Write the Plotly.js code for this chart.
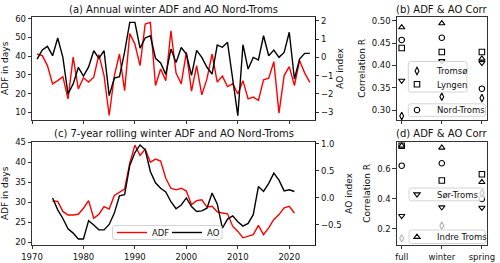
<!DOCTYPE html>
<html>
<head>
<meta charset="utf-8">
<script src="https://cdn.plot.ly/plotly-3.0.1.min.js"></script>
<style>html,body{margin:0;padding:0;background:#fff;}#chart{width:500px;height:263px;}</style>
</head>
<body>
<div id="chart"></div>
<script>
// ---------- data ----------
const annualYears = [1971,1972,1973,1974,1975,1976,1977,1978,1979,1980,1981,1982,1983,1984,1985,1986,1987,1988,1989,1990,1991,1992,1993,1994,1995,1996,1997,1998,1999,2000,2001,2002,2003,2004,2005,2006,2007,2008,2009,2010,2011,2012,2013,2014,2015,2016,2017,2018,2019,2020,2021,2022,2023,2024];
const annualADF = [41.1,40.2,34.9,25.2,26.9,29.0,17.2,39.4,22.5,28.4,26.1,28.7,40.8,29.6,8.3,29.5,41.1,21.6,52.0,46.4,34.9,57.1,58.0,24.3,33.1,26.9,53.5,30.9,25.2,42.0,21.3,34.9,19.3,27.8,41.1,26.1,29.3,23.7,25.2,19.8,26.9,17.2,18.1,16.3,27.3,28.2,37.0,9.6,29.6,34.4,24.3,37.6,30.9,26.0];
const annualAO = [-0.1,0.4,0.6,0.09,1.06,0.0,-2.0,-1.45,-0.55,-1.02,-0.52,0.36,-0.05,0.36,-2.09,-1.13,-1.05,0.3,1.91,1.91,0.5,1.06,1.18,-0.05,-0.3,-0.93,0.45,-0.28,0.54,0.18,-0.98,0.38,0.0,-0.54,-0.91,0.67,0.55,0.82,-1.18,-3.18,0.69,-0.64,0.0,-0.14,1.18,0.09,0.4,0.0,0.27,1.37,-1.18,-0.09,0.22,0.22];

const rollYears = [1974,1975,1976,1977,1978,1979,1980,1981,1982,1983,1984,1985,1986,1987,1988,1989,1990,1991,1992,1993,1994,1995,1996,1997,1998,1999,2000,2001,2002,2003,2004,2005,2006,2007,2008,2009,2010,2011,2012,2013,2014,2015,2016,2017,2018,2019,2020,2021];
const rollADF = [30.3,30.2,27.7,26.8,26.8,27.0,28.5,30.4,26.0,27.0,28.9,28.3,31.7,32.5,33.3,39.8,44.3,41.7,43.3,40.0,40.8,40.3,36.0,33.5,33.1,33.5,32.8,29.4,30.4,30.6,28.8,29.0,27.6,27.3,27.1,24.0,22.7,21.1,21.5,21.9,24.2,21.9,23.6,25.7,26.9,28.6,29.0,27.3];
const rollAO = [0.0,-0.22,-0.38,-0.57,-0.65,-0.76,-0.76,-0.42,-0.5,-0.59,-0.59,-0.49,-0.28,0.04,0.06,0.6,0.84,0.98,0.89,0.49,0.28,0.18,0.11,-0.07,-0.2,-0.13,0.0,-0.16,-0.25,-0.24,-0.19,0.09,-0.11,-0.56,-0.39,-0.33,-0.44,-0.52,-0.47,-0.31,0.21,0.12,0.27,0.46,0.33,0.13,0.15,0.12];

const seasons = ['full','winter','spring'];
const regions = ['Tromsø','Lyngen','Nord-Troms','Sør-Troms','Indre Troms'];
// panel (b)
const corrB_Tromso = [0.287,0.330,0.327];
const corrB_Lyngen = [0.439,0.430,0.430];
const corrB_NordTroms = [0.457,0.462,0.348];
const corrB_SorTroms = [0.366,0.410,0.406];
const corrB_IndreTroms = [0.485,0.494,0.415];
// panel (d)
const corrD_Tromso = [0.138,0.222,0.440];
const corrD_Lyngen = [0.755,0.523,0.565];
const corrD_NordTroms = [0.622,0.638,0.400];
const corrD_SorTroms = [0.287,0.345,0.342];
const corrD_IndreTroms = [0.755,0.742,0.512];

// ---------- styling ----------
const W = 500, H = 263;
const px = v => v / W;
const py = v => 1 - v / H;
const FONT = 'DejaVu Sans, sans-serif';
const tickFont = {family: FONT, size: 8.5, color: '#111'};
const titleFont = {family: FONT, size: 9, color: '#111'};
const symbols = ['diamond-tall-open','square-open','circle-open','triangle-down-open','triangle-up-open'];

const axBase = {
  showgrid: false, zeroline: false, showline: true, linecolor: '#000', linewidth: 0.8,
  ticks: 'outside', ticklen: 3.5, tickwidth: 0.8, tickcolor: '#000',
  tickfont: tickFont, mirror: true, fixedrange: true
};

const domA_x = [px(32), px(315)];
const domA_y = [py(120), py(16.7)];
const domC_y = [py(245), py(141.7)];
const domB_x = [px(396.7), px(486.7)];

const traces = [];
// panel (a)
traces.push({x: annualYears, y: annualADF, type: 'scatter', mode: 'lines', line: {color: '#ff0000', width: 1.4}, xaxis: 'x', yaxis: 'y', showlegend: false});
traces.push({x: annualYears, y: annualAO, type: 'scatter', mode: 'lines', line: {color: '#000', width: 1.4}, xaxis: 'x', yaxis: 'y2', showlegend: false});
// panel (c)
traces.push({x: rollYears, y: rollADF, type: 'scatter', mode: 'lines', name: 'ADF', line: {color: '#ff0000', width: 1.4}, xaxis: 'x2', yaxis: 'y3', legend: 'legend6'});
traces.push({x: rollYears, y: rollAO, type: 'scatter', mode: 'lines', name: 'AO', line: {color: '#000', width: 1.4}, xaxis: 'x2', yaxis: 'y4', legend: 'legend7'});

const bData = [corrB_Tromso, corrB_Lyngen, corrB_NordTroms, corrB_SorTroms, corrB_IndreTroms];
const dData = [corrD_Tromso, corrD_Lyngen, corrD_NordTroms, corrD_SorTroms, corrD_IndreTroms];
const bLegend = ['legend', 'legend2', 'legend3', null, null];
const dLegend = [null, null, null, 'legend4', 'legend5'];
const dColors = [['#b5b5b5','#b5b5b5','#000'], '#000', '#000', '#000', '#000'];
regions.forEach((r, i) => {
  traces.push({x: seasons, y: bData[i], type: 'scatter', mode: 'markers', name: r,
    marker: {symbol: symbols[i], size: 5.5, color: '#000', line: {width: 1.1, color: '#000'}},
    xaxis: 'x3', yaxis: 'y5', showlegend: bLegend[i] !== null, legend: bLegend[i] || 'legend'});
});
regions.forEach((r, i) => {
  traces.push({x: seasons, y: dData[i], type: 'scatter', mode: 'markers', name: r,
    marker: {symbol: symbols[i], size: 5.5, color: dColors[i], line: {width: 1.1}},
    xaxis: 'x4', yaxis: 'y6', showlegend: dLegend[i] !== null, legend: dLegend[i] || 'legend'});
});

// bare legends (box drawn as shapes); item centre sits 14.5px below legend top, symbol at +20px, text at +40px
const legBase = {bgcolor: 'rgba(0,0,0,0)', borderwidth: 0,
  font: {family: FONT, size: 8.5, color: '#111'}, itemwidth: 30, xanchor: 'left', yanchor: 'top',
  itemclick: false, itemdoubleclick: false};
const leg = (symX, cy, extra) => Object.assign({}, legBase, {x: px(symX - 20), y: py(cy - 14.5)}, extra || {});

function roundBox(x0, y0, x1, y1) {
  const r = 2.5;
  const X = v => px(v), Y = v => py(v);
  const path = `M${X(x0 + r)},${Y(y0)} L${X(x1 - r)},${Y(y0)} Q${X(x1)},${Y(y0)} ${X(x1)},${Y(y0 + r)} ` +
    `L${X(x1)},${Y(y1 - r)} Q${X(x1)},${Y(y1)} ${X(x1 - r)},${Y(y1)} L${X(x0 + r)},${Y(y1)} ` +
    `Q${X(x0)},${Y(y1)} ${X(x0)},${Y(y1 - r)} L${X(x0)},${Y(y0 + r)} Q${X(x0)},${Y(y0)} ${X(x0 + r)},${Y(y0)} Z`;
  return {type: 'path', path: path, xref: 'paper', yref: 'paper', layer: 'above',
    fillcolor: 'rgba(255,255,255,0.8)', line: {color: '#d4d4d4', width: 1}};
}

const layout = {
  width: W, height: H, margin: {l: 0, r: 0, t: 0, b: 0},
  paper_bgcolor: '#fff', plot_bgcolor: '#fff', showlegend: true,
  font: {family: FONT, color: '#111'},
  xaxis: Object.assign({}, axBase, {domain: domA_x, anchor: 'y', range: [1970, 2025], tickvals: [1970,1980,1990,2000,2010,2020], showticklabels: false}),
  yaxis: Object.assign({}, axBase, {domain: domA_y, anchor: 'x', range: [5.9, 61.0], tickvals: [10,20,30,40,50,60], title: {text: 'ADF in days', font: titleFont, standoff: 4}}),
  yaxis2: Object.assign({}, axBase, {overlaying: 'y', side: 'right', anchor: 'x', range: [-3.42, 2.22], tickvals: [-3,-2,-1,0,1,2], mirror: false, title: {text: 'AO index', font: titleFont, standoff: 4}}),
  xaxis2: Object.assign({}, axBase, {domain: domA_x, anchor: 'y3', range: [1970, 2025], tickvals: [1970,1980,1990,2000,2010,2020]}),
  yaxis3: Object.assign({}, axBase, {domain: domC_y, anchor: 'x2', range: [19.3, 45.15], tickvals: [20,25,30,35,40,45], title: {text: 'ADF in days', font: titleFont, standoff: 4}}),
  yaxis4: Object.assign({}, axBase, {overlaying: 'y3', side: 'right', anchor: 'x2', range: [-0.87, 1.04], tickvals: [-0.5,0,0.5,1.0], tickformat: '.1f', mirror: false, title: {text: 'AO index', font: titleFont, standoff: 4}}),
  xaxis3: Object.assign({}, axBase, {domain: domB_x, anchor: 'y5', type: 'category', range: [-0.125, 2.12], showticklabels: false}),
  yaxis5: Object.assign({}, axBase, {domain: domA_y, anchor: 'x3', range: [0.278, 0.509], tickvals: [0.30,0.35,0.40,0.45,0.50], tickformat: '.2f', title: {text: 'Correlation R', font: titleFont, standoff: 4}}),
  xaxis4: Object.assign({}, axBase, {domain: domB_x, anchor: 'y6', type: 'category', range: [-0.125, 2.12]}),
  yaxis6: Object.assign({}, axBase, {domain: domC_y, anchor: 'x4', range: [0.093, 0.782], tickvals: [0.2,0.4,0.6], tickformat: '.1f', title: {text: 'Correlation R', font: titleFont, standoff: 4}}),
  legend: leg(417, 71),
  legend2: leg(417, 84.3),
  legend3: leg(417, 110),
  legend4: leg(417, 194.3),
  legend5: leg(417, 237),
  legend6: leg(132, 232.5),
  legend7: leg(187, 232.5),
  shapes: [
    roundBox(408.3, 61.5, 467, 92),
    roundBox(408.3, 103.8, 485.5, 116.3),
    roundBox(409, 188, 484, 200.8),
    roundBox(409, 230, 485.5, 243.5),
    roundBox(112.5, 225.5, 222, 239.5)
  ],
  annotations: [
    {text: '(a) Annual winter ADF and AO Nord-Troms', x: px(173.5), y: py(9.5), xref: 'paper', yref: 'paper', showarrow: false, xanchor: 'center', yanchor: 'middle', font: {family: FONT, size: 10, color: '#111'}},
    {text: '(c) 7-year rolling winter ADF and AO Nord-Troms', x: px(173.5), y: py(133.5), xref: 'paper', yref: 'paper', showarrow: false, xanchor: 'center', yanchor: 'middle', font: {family: FONT, size: 10, color: '#111'}},
    {text: '(b) ADF &amp; AO Corr', x: px(441.7), y: py(9.5), xref: 'paper', yref: 'paper', showarrow: false, xanchor: 'center', yanchor: 'middle', font: {family: FONT, size: 10, color: '#111'}},
    {text: '(d) ADF &amp; AO Corr', x: px(441.7), y: py(133.5), xref: 'paper', yref: 'paper', showarrow: false, xanchor: 'center', yanchor: 'middle', font: {family: FONT, size: 10, color: '#111'}}
  ]
};

Plotly.newPlot('chart', traces, layout, {displayModeBar: false, staticPlot: true});
</script>
</body>
</html>
